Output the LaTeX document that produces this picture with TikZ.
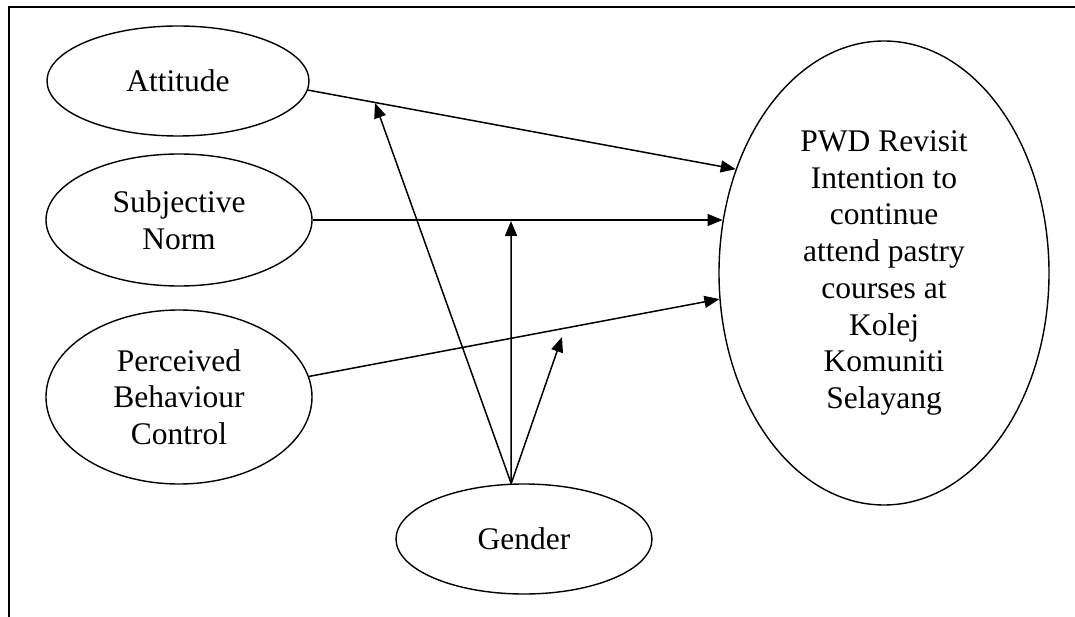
\documentclass[tikz,border=0pt]{standalone}
\usepackage{fontspec}
\setmainfont{Liberation Serif}
\usetikzlibrary{shapes.geometric,arrows.meta}
\begin{document}
\begin{tikzpicture}[x=1pt,y=-1pt,
  oval/.style={draw, ellipse, line width=1.4pt, inner sep=0pt, align=center,
    font=\fontsize{31.5}{36.7}\selectfont},
  conn/.style={line width=1.5pt, -{Triangle[length=15pt,width=12pt]}},
  frame/.style={line width=2pt}
]
\useasboundingbox (0,0) rectangle (1075,617);
\draw[frame] (9,617) -- (9,7) -- (1075,7);

\node[oval, minimum width=262pt, minimum height=110pt] (att) at (178,81) {Attitude};
\node[oval, minimum width=266pt, minimum height=132pt] (sn) at (179,220) {Subjective\\Norm};
\node[oval, minimum width=266pt, minimum height=174pt] (pbc) at (179,397) {Perceived\\Behaviour\\Control};
\node[oval, minimum width=330pt, minimum height=464pt] (pwd) at (884,273)
  {PWD Revisit\\Intention to\\continue\\attend pastry\\courses at\\Kolej\\Komuniti\\Selayang};
\node[oval, minimum width=256pt, minimum height=110pt] (gen) at (524,539) {Gender};

\coordinate (t1) at (375,103);
\coordinate (t2) at (511,221);
\coordinate (t3) at (562,337);

\draw[conn] (att.-4) -- (pwd.145);
\draw[conn] (sn.east) -- (sn.east -| pwd.162);
\draw[conn] (pbc.9) -- (pwd.189);

\draw[conn] (gen.103) -- (t1);
\draw[conn] (gen.103) -- (t2);
\draw[conn] (gen.103) -- (t3);
\end{tikzpicture}
\end{document}
